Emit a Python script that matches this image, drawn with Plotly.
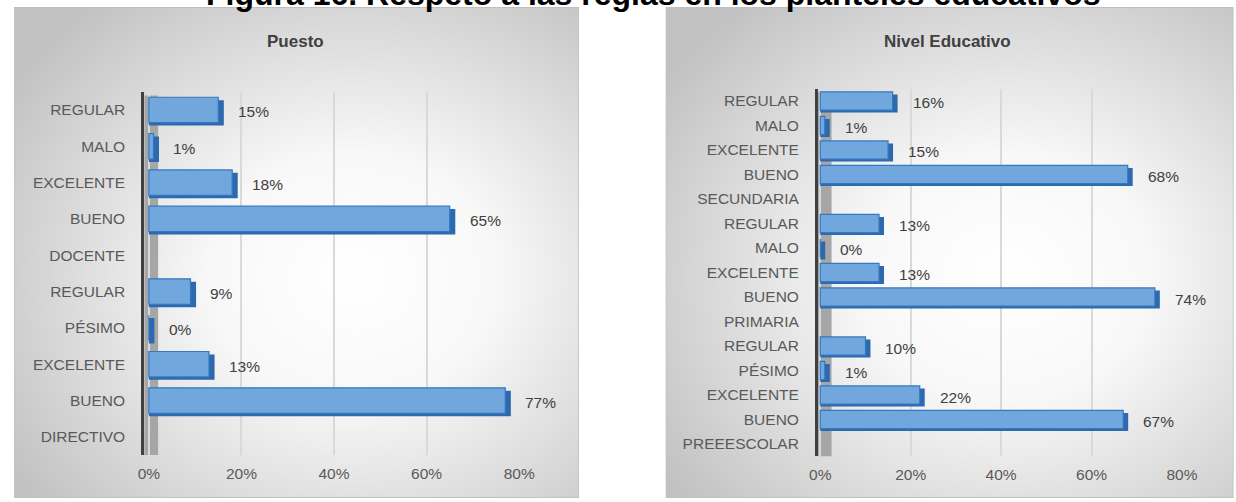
import base64
import plotly.graph_objects as go

W, H = 1236, 502

# ---------------- data ----------------
puesto_labels = ["REGULAR", "MALO", "EXCELENTE", "BUENO", "DOCENTE",
                 "REGULAR", "PÉSIMO", "EXCELENTE", "BUENO", "DIRECTIVO"]
puesto_values = [15, 1, 18, 65, None, 9, 0, 13, 77, None]

nivel_labels = ["REGULAR", "MALO", "EXCELENTE", "BUENO", "SECUNDARIA",
                "REGULAR", "MALO", "EXCELENTE", "BUENO", "PRIMARIA",
                "REGULAR", "PÉSIMO", "EXCELENTE", "BUENO", "PREEESCOLAR"]
nivel_values = [16, 1, 15, 68, None, 13, 0, 13, 74, None, 10, 1, 22, 67, None]

x_tickvals = [0, 20, 40, 60, 80]
x_ticktext = ["0%", "20%", "40%", "60%", "80%"]

main_title = "Figura 16. Respeto a las reglas en los planteles educativos"
left_title = "Puesto"
right_title = "Nivel Educativo"

# ---------------- style ----------------
FONT = "Liberation Sans, Arial, sans-serif"
TXT = "#404040"
TICK = "#595959"
FRONT = "#71A7DD"
FRONT_LINE = "#3578C0"
DEPTH = "#2D69AE"
FS = 15.5


def px(x):
    return x / W


def py(y):
    return 1 - y / H


def panel_svg(w, h):
    svg = f'''<svg xmlns="http://www.w3.org/2000/svg" width="{w}" height="{h}" viewBox="0 0 {w} {h}">
<defs><radialGradient id="g" cx="0.6" cy="0.55" r="0.72">
<stop offset="0" stop-color="#FFFFFF"/>
<stop offset="0.35" stop-color="#F8F8F8"/>
<stop offset="1" stop-color="#C2C2C2"/>
</radialGradient></defs>
<rect x="0.5" y="0.5" width="{w-1}" height="{h-1}" fill="url(#g)" stroke="#C0C0C0" stroke-width="1"/>
</svg>'''
    return "data:image/svg+xml;base64," + base64.b64encode(svg.encode()).decode()


fig = go.Figure()

panels = [
    dict(labels=puesto_labels, values=puesto_values, xa="x", ya="y",
         depth=1.2, dy=0.08, width=0.7),
    dict(labels=nivel_labels, values=nivel_values, xa="x2", ya="y2",
         depth=1.1, dy=0.1, width=0.74),
]

annotations = []
for p in panels:
    ys = [i for i, v in enumerate(p["values"]) if v is not None]
    xs = [v for v in p["values"] if v is not None]
    w = p["width"]
    # 3D depth face
    fig.add_trace(go.Bar(
        x=[v + p["depth"] for v in xs], y=ys, orientation="h",
        width=w, offset=-w / 2 + p["dy"],
        marker=dict(color=DEPTH, line=dict(width=0)),
        xaxis=p["xa"], yaxis=p["ya"], hoverinfo="skip", showlegend=False))
    # front face
    fig.add_trace(go.Bar(
        x=xs, y=ys, orientation="h",
        width=w, offset=-w / 2,
        marker=dict(color=FRONT, line=dict(color=FRONT_LINE, width=1.2)),
        xaxis=p["xa"], yaxis=p["ya"], showlegend=False))
    for xv, yv in zip(xs, ys):
        annotations.append(dict(
            x=xv, y=yv, xref=p["xa"], yref=p["ya"], text=f"{xv}%",
            showarrow=False, xanchor="left", xshift=18, yshift=-2,
            font=dict(family=FONT, size=FS, color=TXT)))

# titles
annotations.append(dict(x=px(658), y=py(-6), xref="paper", yref="paper",
                        text=f"<b>{main_title}</b>", showarrow=False,
                        xanchor="center", yanchor="middle",
                        font=dict(family=FONT, size=32, color="#000000")))
annotations.append(dict(x=px(292), y=py(41), xref="paper", yref="paper",
                        text=f"<b>{left_title}</b>", showarrow=False,
                        xanchor="center", yanchor="middle",
                        font=dict(family=FONT, size=17, color=TXT)))
annotations.append(dict(x=px(958), y=py(41), xref="paper", yref="paper",
                        text=f"<b>{right_title}</b>", showarrow=False,
                        xanchor="center", yanchor="middle",
                        font=dict(family=FONT, size=17, color=TXT)))

images = [
    dict(source=panel_svg(577, 491), xref="paper", yref="paper",
         x=px(5), y=py(7), sizex=577 / W, sizey=491 / H,
         xanchor="left", yanchor="top", sizing="stretch", layer="below"),
    dict(source=panel_svg(580, 491), xref="paper", yref="paper",
         x=px(670), y=py(7), sizex=580 / W, sizey=491 / H,
         xanchor="left", yanchor="top", sizing="stretch", layer="below"),
]

# gray 3D wall next to the value axis
shapes = [
    dict(type="rect", xref="x", yref="y domain", x0=-1, x1=2, y0=0, y1=0.99,
         fillcolor="#A6A6A6", line=dict(width=0), layer="below"),
    dict(type="rect", xref="x2", yref="y2 domain", x0=-0.5, x1=2.5, y0=0, y1=0.99,
         fillcolor="#A6A6A6", line=dict(width=0), layer="below"),
]

xaxis_common = dict(tickvals=x_tickvals, ticktext=x_ticktext, showgrid=True,
                    gridcolor="#D9D9D9", gridwidth=1.5, zeroline=False,
                    showline=False, ticks="", ticklabelstandoff=7,
                    tickfont=dict(family=FONT, size=FS, color=TICK),
                    fixedrange=True)
yaxis_common = dict(showgrid=False, zeroline=False, showline=True,
                    linecolor="#404040", linewidth=3, ticks="",
                    ticklabelstandoff=13,
                    tickfont=dict(family=FONT, size=FS, color=TICK),
                    fixedrange=True)

fig.update_layout(
    width=W, height=H,
    margin=dict(l=0, r=0, t=0, b=0),
    paper_bgcolor="white", plot_bgcolor="rgba(0,0,0,0)",
    barmode="overlay", bargap=0.3,
    showlegend=False,
    xaxis=dict(domain=[px(138), px(520.7)], range=[-1, 80], anchor="y", **xaxis_common),
    yaxis=dict(domain=[py(455), py(91.8)], range=[9.5, -0.5], anchor="x",
               tickvals=list(range(len(puesto_labels))), ticktext=puesto_labels,
               **yaxis_common),
    xaxis2=dict(domain=[px(825.7), px(1197.2)], range=[-0.5, 80], anchor="y2", **xaxis_common),
    yaxis2=dict(domain=[py(456.25), py(88.75)], range=[14.5, -0.5], anchor="x2",
                tickvals=list(range(len(nivel_labels))), ticktext=nivel_labels,
                **yaxis_common),
    annotations=annotations,
    images=images,
    shapes=shapes,
)

fig.write_html("out.html",
               config={"displayModeBar": False},
               post_script="document.body.style.margin='0px';document.body.style.overflow='hidden';")
